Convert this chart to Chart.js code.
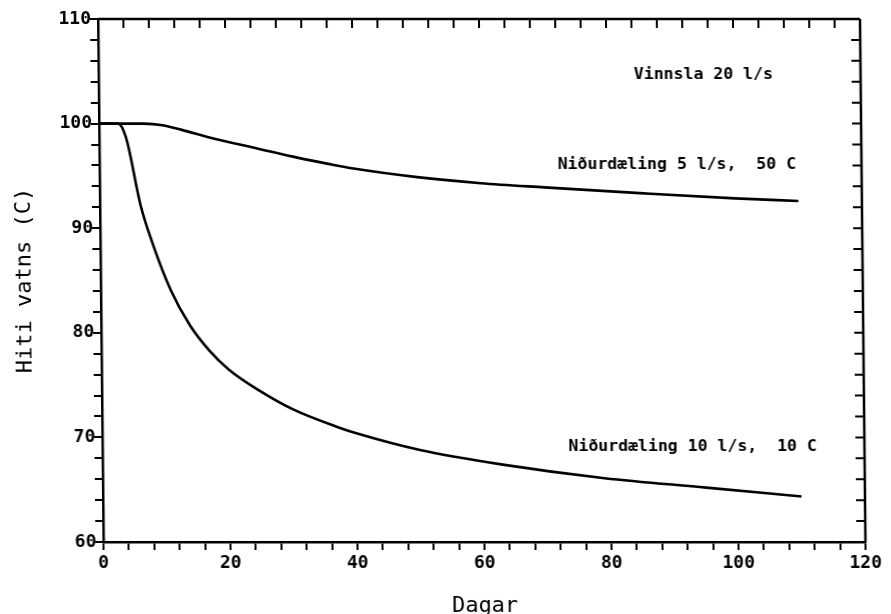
<!DOCTYPE html>
<html>
<head>
<meta charset="utf-8">
<script src="https://cdn.jsdelivr.net/npm/chart.js@4.4.1/dist/chart.umd.min.js"></script>
<style>
  html, body { margin: 0; padding: 0; background: #fff; }
  #wrap { width: 891px; height: 614px; transform: skewX(0.6deg); }
</style>
</head>
<body>
<div id="wrap"><canvas id="hiti" width="891" height="614"></canvas></div>
<script>
// Vinnsla 20 l/s, tvaer nidurdaelingar
var upperDays  = [0, 7, 10, 13, 17.5, 25, 31.5, 36, 40, 50, 60, 70, 85, 100, 110];
var upperTemps = [100, 100, 99.85, 99.4, 98.65, 97.6, 96.7, 96.15, 95.7, 94.88, 94.3, 93.9, 93.35, 92.85, 92.6];

var lowerDays  = [0, 3, 4.2, 6.4, 8.2, 11, 14, 17, 20, 25, 30, 37, 40, 50, 63, 79, 95, 110];
var lowerTemps = [100, 100, 98.7, 92.2, 88.6, 84.1, 80.7, 78.3, 76.5, 74.4, 72.7, 71.0, 70.4, 68.8, 67.4, 66.1, 65.2, 64.35];

var xTicks = [0, 20, 40, 60, 80, 100, 120];
var yTicks = [60, 70, 80, 90, 100, 110];

var font = 'DejaVu Sans Mono';

function pts(xs, ys) {
    var out = [];
    for (var i = 0; i < xs.length; i++) out.push({x: xs[i], y: ys[i]});
    return out;
}

// texti inni i myndinni, i hnitum grafsins (haegri endi)
var notes = [
    {text: 'Vinnsla 20 l/s', x: 106.2, y: 104.65},
    {text: 'Niðurdæling 5 l/s,  50 C', x: 109.7, y: 96.05},
    {text: 'Niðurdæling 10 l/s,  10 C', x: 112.5, y: 69.15}
];

var frame = {
    id: 'frame',
    afterDraw: function(chart) {
        var c = chart.ctx, a = chart.chartArea;
        var sx = chart.scales.x, sy = chart.scales.y;
        c.save();
        c.strokeStyle = '#000';
        c.lineWidth = 2.5;
        c.beginPath();
        c.moveTo(a.left, a.top); c.lineTo(a.right, a.top);
        c.moveTo(a.right, a.top); c.lineTo(a.right, a.bottom);
        c.stroke();
        c.lineWidth = 2;
        c.beginPath();
        sx.ticks.forEach(function(t) {
            var px = sx.getPixelForValue(t.value);
            c.moveTo(px, a.top); c.lineTo(px, a.top + 9);
        });
        sy.ticks.forEach(function(t) {
            var py = sy.getPixelForValue(t.value);
            c.moveTo(a.right, py); c.lineTo(a.right - 9, py);
        });
        c.stroke();
        c.fillStyle = '#000';
        c.font = 'bold 16.5px "' + font + '"';
        c.textAlign = 'right';
        c.textBaseline = 'middle';
        notes.forEach(function(n) {
            c.fillText(n.text, sx.getPixelForValue(n.x), sy.getPixelForValue(n.y));
        });
        c.restore();
    }
};

var ctx = document.getElementById('hiti').getContext('2d');
var myChart = new Chart(ctx, {
    type: 'line',
    data: {
        datasets: [{
            label: 'Niðurdæling 5 l/s, 50 C',
            data: pts(upperDays, upperTemps),
            borderColor: '#000',
            borderWidth: 2.6,
            pointRadius: 0,
            fill: false,
            cubicInterpolationMode: 'monotone'
        },
        {
            label: 'Niðurdæling 10 l/s, 10 C',
            data: pts(lowerDays, lowerTemps),
            borderColor: '#000',
            borderWidth: 2.6,
            pointRadius: 0,
            fill: false,
            cubicInterpolationMode: 'monotone'
        }]
    },
    options: {
        responsive: false,
        animation: false,
        layout: { padding: { top: 19, right: 28, left: 0, bottom: 0 } },
        plugins: { legend: { display: false }, tooltip: { enabled: false } },
        scales: {
            x: {
                type: 'linear',
                min: 0, max: 120,
                afterFit: function(s) { s.height = 72; },
                ticks: {
                    stepSize: 4,
                    autoSkip: false,
                    maxRotation: 0,
                    color: '#000',
                    padding: 3,
                    font: { family: font, size: 18, weight: 'bold' },
                    callback: function(v) { return xTicks.indexOf(v) >= 0 ? String(v) : ''; }
                },
                grid: { drawOnChartArea: false, drawTicks: true, tickLength: 8, color: '#000', lineWidth: 2 },
                border: { color: '#000', width: 2.5 },
                title: { display: true, text: 'Dagar', color: '#000', font: { family: font, size: 22, lineHeight: 1 }, padding: { top: 0, bottom: -3 } }
            },
            y: {
                min: 60, max: 110,
                afterFit: function(s) { s.width = 101; },
                ticks: {
                    stepSize: 2,
                    autoSkip: false,
                    color: '#000',
                    padding: -1,
                    font: { family: font, size: 18, weight: 'bold' },
                    callback: function(v) { return yTicks.indexOf(v) >= 0 ? String(v) : ''; }
                },
                grid: { drawOnChartArea: false, drawTicks: true, tickLength: 8, color: '#000', lineWidth: 2 },
                border: { color: '#000', width: 2.5 },
                title: { display: true, text: 'Hiti vatns (C)', color: '#000', font: { family: font, size: 22, lineHeight: 1 }, padding: { top: 14, bottom: 0 } }
            }
        }
    },
    plugins: [frame]
});
</script>
</body>
</html>
